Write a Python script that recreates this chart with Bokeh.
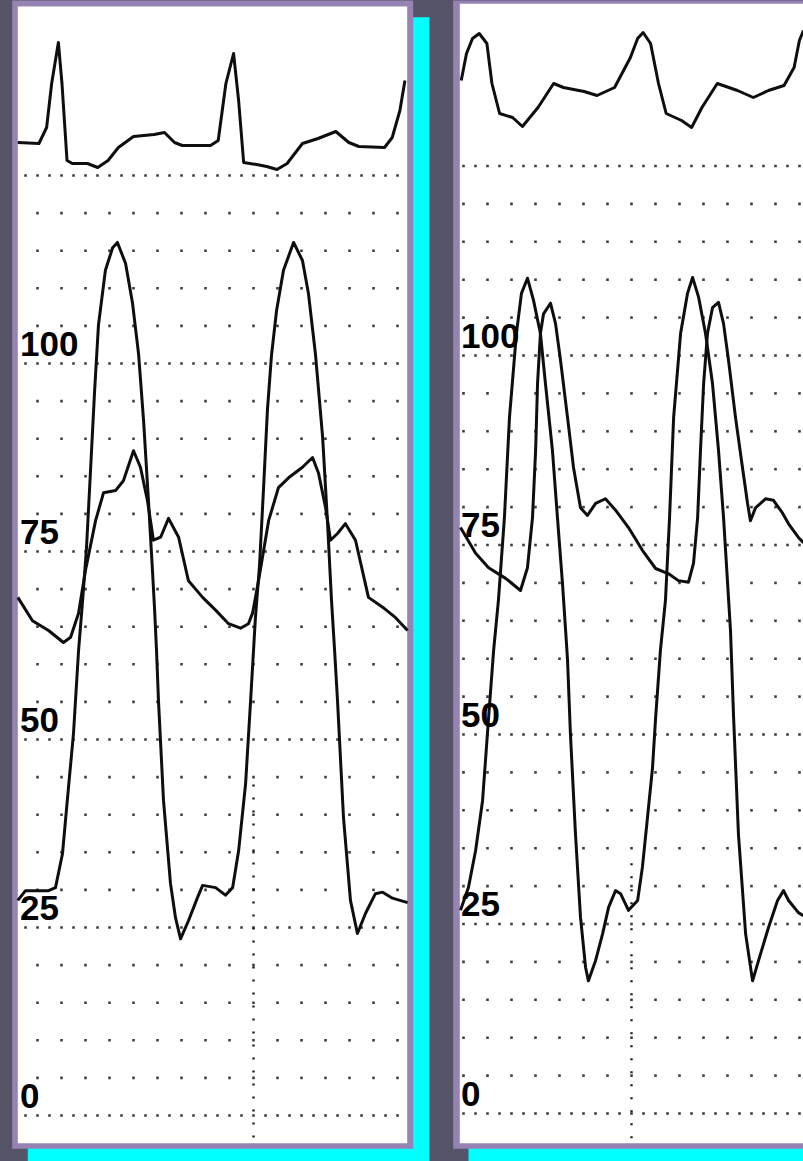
import numpy as np
from bokeh.plotting import figure
from bokeh.layouts import row
from bokeh.models import Range1d, BoxAnnotation, GlobalInlineStyleSheet
from bokeh.core.properties import value
from bokeh.embed import file_html
from bokeh.resources import INLINE

# ---------------------------------------------------------------- data
# pressure scale labels (mmHg)
LEVELS = [100, 75, 50, 25, 0]

# left recording: time (s), ventricular pressure (mmHg)
L_LV_T = [0.018, 0.050, 0.092, 0.146, 0.175, 0.204, 0.229, 0.250, 0.271, 0.288, 0.304, 0.321,
          0.338, 0.354, 0.383, 0.413, 0.433, 0.467, 0.496, 0.521, 0.542, 0.563, 0.579, 0.588,
          0.596, 0.604, 0.625, 0.654, 0.675, 0.696, 0.729, 0.767, 0.788, 0.842, 0.883, 0.913,
          0.938, 0.967, 0.988, 1.008, 1.025, 1.042, 1.058, 1.075, 1.096, 1.125, 1.167, 1.204,
          1.229, 1.258, 1.288, 1.308, 1.325, 1.338, 1.350, 1.375, 1.404, 1.433, 1.467, 1.508,
          1.538, 1.579, 1.642]
L_LV_P = [28.6, 29.9, 29.9, 29.9, 30.3, 34.8, 43.6, 50.8, 61.8, 68.5, 75.4, 85.8,
          96.4, 105.1, 112.4, 115.4, 116.1, 113.3, 108.0, 101.3, 92.4, 81.4, 72.5, 67.2,
          61.8, 55.2, 41.9, 30.9, 26.3, 23.5, 25.9, 29.0, 30.6, 30.3, 29.3, 30.3,
          35.2, 44.1, 55.2, 66.2, 73.1, 83.5, 93.8, 101.1, 107.0, 112.4, 116.1, 113.7,
          109.3, 101.3, 90.2, 79.1, 68.5, 61.8, 55.2, 39.6, 28.6, 24.2, 26.9, 29.5,
          29.7, 28.9, 28.3]

# left recording: arterial pressure (mmHg)
L_AO_T = [0.018, 0.079, 0.146, 0.208, 0.238, 0.271, 0.300, 0.342, 0.375, 0.425, 0.458, 0.500,
          0.529, 0.558, 0.583, 0.613, 0.646, 0.688, 0.729, 0.788, 0.842, 0.896, 0.946, 0.979,
          0.996, 1.021, 1.063, 1.104, 1.146, 1.204, 1.246, 1.271, 1.300, 1.321, 1.350, 1.383,
          1.425, 1.479, 1.538, 1.592, 1.642]
L_AO_P = [68.9, 65.8, 64.5, 62.9, 63.6, 66.8, 72.5, 79.1, 82.8, 83.1, 84.4, 88.4,
          86.2, 81.8, 76.5, 76.9, 79.4, 76.9, 71.1, 68.9, 67.2, 65.4, 64.8, 65.4,
          66.8, 71.1, 79.1, 83.5, 84.8, 86.2, 87.5, 85.4, 80.9, 76.5, 77.4, 78.7,
          76.5, 68.9, 67.6, 66.2, 64.5]

# left recording: ECG (mV)
L_ECG_T = [0.018, 0.106, 0.138, 0.159, 0.187, 0.202, 0.223, 0.245, 0.308, 0.351, 0.394, 0.437,
           0.500, 0.586, 0.629, 0.671, 0.703, 0.821, 0.853, 0.885, 0.917, 0.938, 0.959, 1.013,
           1.055, 1.098, 1.140, 1.204, 1.269, 1.343, 1.397, 1.439, 1.546, 1.578, 1.610, 1.631]
L_ECG_V = [0.00, -0.01, 0.15, 0.59, 1.00, 0.59, -0.18, -0.21, -0.21, -0.25, -0.18, -0.05,
           0.06, 0.08, 0.10, 0.00, -0.03, -0.03, 0.02, 0.59, 0.89, 0.42, -0.20, -0.22,
           -0.24, -0.27, -0.21, -0.01, 0.04, 0.11, 0.00, -0.04, -0.05, 0.05, 0.32, 0.62]

# right recording: ventricular pressure (mmHg)
R_LV_T = [0.000, 0.033, 0.063, 0.092, 0.117, 0.138, 0.158, 0.183, 0.204, 0.233, 0.254, 0.279,
          0.304, 0.333, 0.354, 0.383, 0.404, 0.425, 0.438, 0.446, 0.458, 0.479, 0.500, 0.521,
          0.533, 0.563, 0.592, 0.617, 0.646, 0.667, 0.700, 0.738, 0.758, 0.779, 0.800, 0.813,
          0.833, 0.854, 0.871, 0.888, 0.917, 0.946, 0.967, 0.992, 1.021, 1.050, 1.075, 1.096,
          1.113, 1.125, 1.138, 1.158, 1.188, 1.217, 1.242, 1.283, 1.321, 1.346, 1.367, 1.408,
          1.429]
R_LV_P = [26.8, 29.8, 34.7, 41.3, 52.2, 61.1, 67.7, 78.6, 91.8, 102.9, 108.2, 110.2,
          107.3, 102.9, 96.3, 87.5, 78.6, 69.9, 63.7, 59.8, 50.1, 36.9, 25.9, 19.3,
          17.5, 20.2, 23.7, 27.2, 29.4, 29.0, 26.8, 28.1, 32.5, 39.0, 45.6, 52.2,
          61.1, 67.7, 78.6, 91.8, 102.9, 108.2, 110.3, 107.7, 102.9, 96.3, 87.5, 78.6,
          69.9, 63.7, 52.2, 36.9, 23.7, 17.5, 20.2, 24.5, 28.1, 29.4, 28.1, 26.5,
          26.1]

# right recording: arterial pressure (mmHg)
R_AO_T = [0.000, 0.063, 0.117, 0.188, 0.250, 0.279, 0.300, 0.313, 0.321, 0.333, 0.346, 0.375,
          0.396, 0.417, 0.446, 0.471, 0.500, 0.529, 0.563, 0.604, 0.646, 0.700, 0.758, 0.813,
          0.867, 0.908, 0.950, 0.971, 0.988, 1.000, 1.013, 1.029, 1.050, 1.075, 1.096, 1.117,
          1.146, 1.175, 1.196, 1.208, 1.229, 1.271, 1.304, 1.342, 1.367, 1.408, 1.429]
R_AO_P = [77.3, 73.9, 72.0, 70.6, 69.0, 72.0, 78.6, 87.5, 96.3, 102.9, 105.5, 106.9,
          104.2, 99.3, 91.8, 85.2, 79.9, 78.9, 80.5, 81.1, 79.6, 77.3, 74.3, 71.9,
          71.2, 70.3, 70.1, 72.6, 78.6, 87.5, 96.3, 102.9, 106.3, 107.0, 104.2, 99.3,
          91.8, 85.2, 80.5, 78.2, 79.9, 81.1, 80.9, 79.2, 77.8, 76.0, 75.3]

# right recording: ECG (mV)
R_ECG_T = [0.003, 0.025, 0.050, 0.078, 0.110, 0.131, 0.163, 0.217, 0.258, 0.323, 0.388, 0.429,
           0.515, 0.569, 0.642, 0.708, 0.738, 0.761, 0.792, 0.825, 0.857, 0.921, 0.963, 1.006,
           1.070, 1.154, 1.220, 1.283, 1.348, 1.390, 1.412, 1.429]
R_ECG_V = [0.30, 0.57, 0.72, 0.77, 0.67, 0.27, -0.03, -0.07, -0.16, 0.03, 0.27, 0.23,
           0.19, 0.15, 0.23, 0.53, 0.72, 0.78, 0.67, 0.27, -0.03, -0.10, -0.17, 0.03,
           0.27, 0.20, 0.13, 0.20, 0.25, 0.43, 0.70, 0.80]

# time markers (s) and the pressure from which their dotted line starts
L_MARK_T, L_MARK_TOP = 1.0, 44.0
R_MARK_T, R_MARK_TOP = 0.7125, 33.0

# ---------------------------------------------------------------- style / layout
BG = "#555567"
PURPLE = "#9682b3"
CYAN = "#00ffff"
WHITE = "#ffffff"
INK = "#0e0e0e"
DOT = "#1c1c1c"
H = 1161
M = 0  # the page template has no body margin
GRID_TOP = 125  # highest dotted row (mmHg)

# panel geometry (screen pixels)
GEO = {
    "left": dict(x0=13.0, sx=240.0, y0=1115.0, sy=7.52, e0=142.0, es=100.0, fx=(0, 441),
                 cyan=(27.3, 429, 16.7, 2000), purple=(11.7, 412.7, -50, 1148.3),
                 white=(17.3, 406.7, 6, 1142.7), label_x=19.5, phase=0.0,
                 tcols=(0.05, 1.62)),
    "right": dict(x0=460.0, sx=240.0, y0=1113.0, sy=7.58, e0=110.0, es=100.0, fx=(441, 803),
                  cyan=(468, 2000, 14, 2000), purple=(452.7, 2000, -50, 1148.3),
                  white=(459.3, 2000, 3.3, 1142.7), label_x=460.5, phase=0.0125,
                  tcols=(0.0, 1.45)),
}


def panel(g, lv_t, lv_p, ao_t, ao_p, ecg_t, ecg_v, mark_t, mark_top):
    tx = lambda px: (px - g["x0"]) / g["sx"]
    py = lambda sy: (g["y0"] - sy) / g["sy"]
    ey = lambda sy: (g["e0"] - sy) / g["es"]
    w = g["fx"][1] - g["fx"][0]
    p = figure(width=w, height=H, output_backend="svg", toolbar_location=None,
               x_range=Range1d(tx(g["fx"][0]), tx(g["fx"][1])),
               y_range=Range1d(py(M + H), py(M)),
               x_axis_location=None, y_axis_location=None, min_border=0,
               background_fill_color=BG, border_fill_color=BG, outline_line_color=None)
    p.grid.visible = False
    p.extra_y_ranges = {"ecg": Range1d(ey(M + H), ey(M))}

    for key, col in (("cyan", CYAN), ("purple", PURPLE), ("white", WHITE)):
        l, r, t, b = g[key]
        p.add_layout(BoxAnnotation(left=tx(l), right=tx(r), top=py(t), bottom=py(b),
                                   fill_color=col, fill_alpha=1.0, line_alpha=0.0,
                                   level="underlay"))

    # dotted grid: rows every 5 mmHg, columns every 0.1 s (0.05 s on 25 mmHg rows)
    gx, gy = [], []
    t0, t1 = g["tcols"]
    for lev in range(0, GRID_TOP + 1, 5):
        step = 0.05 if lev % 25 == 0 else 0.1
        cols = g["phase"] + np.arange(0, 1.7, step)
        cols = cols[(cols >= t0) & (cols <= t1)]
        gx.extend(cols.tolist())
        gy.extend([lev] * len(cols))
    p.scatter(gx, gy, marker="square", size=2.6, fill_color=DOT, line_color=None, alpha=0.85)

    # time marker
    p.segment(x0=[mark_t], y0=[mark_top], x1=[mark_t], y1=[py(g["white"][3])],
              line_color=DOT, line_width=2.4, line_dash="2 11")

    # traces
    p.line(ao_t, ao_p, line_color=INK, line_width=3.0, line_join="round")
    p.line(lv_t, lv_p, line_color=INK, line_width=3.0, line_join="round")
    p.line(ecg_t, ecg_v, y_range_name="ecg", line_color=INK, line_width=3.0, line_join="round")

    # scale labels
    p.text(x=[tx(g["label_x"])] * len(LEVELS), y=[v + 2.6 for v in LEVELS],
           text=[str(v) for v in LEVELS], text_font=value("Liberation Sans"),
           text_font_size="35px", text_font_style="bold", text_align="left",
           text_baseline="middle", text_color="#000000")
    return p


p_left = panel(GEO["left"], L_LV_T, L_LV_P, L_AO_T, L_AO_P, L_ECG_T, L_ECG_V, L_MARK_T, L_MARK_TOP)
p_right = panel(GEO["right"], R_LV_T, R_LV_P, R_AO_T, R_AO_P, R_ECG_T, R_ECG_V, R_MARK_T, R_MARK_TOP)

p = row(p_left, p_right, spacing=0,
        stylesheets=[GlobalInlineStyleSheet(css="body { background-color: %s; }" % BG)])

open("out.html", "w").write(file_html(p, INLINE))
